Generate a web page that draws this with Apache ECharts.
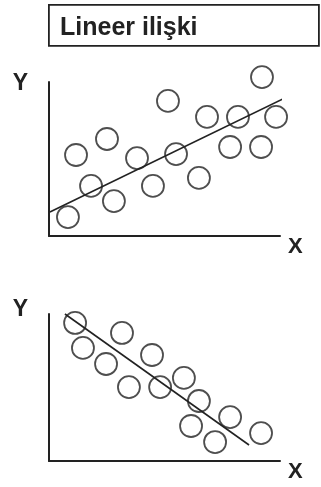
<!DOCTYPE html>
<html>
<head>
<meta charset="utf-8">
<script src="https://cdn.jsdelivr.net/npm/echarts@6/dist/echarts.min.js"></script>
<style>
  html, body { margin: 0; padding: 0; background: #fff; }
  #chart { width: 321px; height: 487px; }
</style>
</head>
<body>
<div id="chart"></div>
<script>
    // positive (linear) relationship - points and trend line
    const posX = [8.2, 11.7, 18.2, 25.1, 28.1, 38.1, 45.0, 51.5, 55.0, 64.9, 68.4, 78.4, 81.8, 92.2, 91.8, 98.3];
    const posY = [12.3, 52.6, 32.5, 63.0, 22.7, 50.6, 32.5, 87.7, 53.2, 37.7, 77.3, 57.8, 77.3, 103.2, 57.8, 77.3];
    const posLineX = [0.4, 103.0];
    const posLineY = [15.6, 90.3];

    // negative relationship
    const negX = [11.3, 31.6, 14.7, 44.6, 24.7, 58.4, 34.6, 48.1, 64.9, 78.4, 61.5, 91.8, 71.9];
    const negY = [93.9, 87.1, 76.9, 72.1, 66.0, 56.5, 50.3, 50.3, 40.8, 29.9, 23.8, 19.0, 12.9];
    const negLineX = [6.9, 86.6];
    const negLineY = [100, 10.9];

    const titleText = 'Lineer ilişki';
    const ink = '#222';
    const font = "'Liberation Sans', Arial, sans-serif";

    const pairs = (xs, ys) => xs.map((x, i) => [x, ys[i]]);

    let chart = echarts.init(document.getElementById('chart'));

    const axisX = (gi) => ({
        type: 'value', gridIndex: gi, min: 0, max: 100,
        name: 'X', nameLocation: 'end', nameGap: 8,
        nameTextStyle: {color: ink, fontFamily: font, fontWeight: 'bold', fontSize: 22,
            verticalAlign: 'top', lineHeight: 22},
        axisLine: {show: true, onZero: false, lineStyle: {color: ink, width: 2}},
        axisTick: {show: false}, axisLabel: {show: false}, splitLine: {show: false}
    });
    const axisY = (gi, gap) => ({
        type: 'value', gridIndex: gi, min: 0, max: 100,
        name: 'Y', nameLocation: 'end', nameGap: gap,
        nameTextStyle: {color: ink, fontFamily: font, fontWeight: 'bold', fontSize: 23,
            align: 'right', verticalAlign: 'middle', padding: [0, 21, 0, 0]},
        axisLine: {show: true, onZero: false, lineStyle: {color: ink, width: 2}},
        axisTick: {show: false}, axisLabel: {show: false}, splitLine: {show: false}
    });

    const circles = (gi, data) => ({
        type: 'scatter', xAxisIndex: gi, yAxisIndex: gi, clip: false,
        symbol: 'circle', symbolSize: 22, data: data,
        itemStyle: {color: 'rgba(0,0,0,0)', borderColor: ink, borderWidth: 1.8},
        emphasis: {disabled: true}
    });
    const trend = (gi, data) => ({
        type: 'line', xAxisIndex: gi, yAxisIndex: gi, clip: false,
        symbol: 'none', data: data,
        lineStyle: {color: ink, width: 1.6}
    });

    let option = {
        animation: false,
        graphic: [
            {type: 'rect', left: 48, top: 4, shape: {width: 270, height: 41},
             style: {fill: '#fff', stroke: ink, lineWidth: 1.8}},
            {type: 'text', left: 60, top: 16,
             style: {text: titleText, fill: ink, font: 'bold 25px ' + font}}
        ],
        grid: [
            {left: 49, width: 231, top: 82, height: 154},
            {left: 49, width: 231, top: 314, height: 147}
        ],
        xAxis: [axisX(0), axisX(1)],
        yAxis: [axisY(0, -2), axisY(1, 4)],
        series: [
            circles(0, pairs(posX, posY)),
            trend(0, pairs(posLineX, posLineY)),
            circles(1, pairs(negX, negY)),
            trend(1, pairs(negLineX, negLineY))
        ]
    };
    chart.setOption(option);
</script>
</body>
</html>
